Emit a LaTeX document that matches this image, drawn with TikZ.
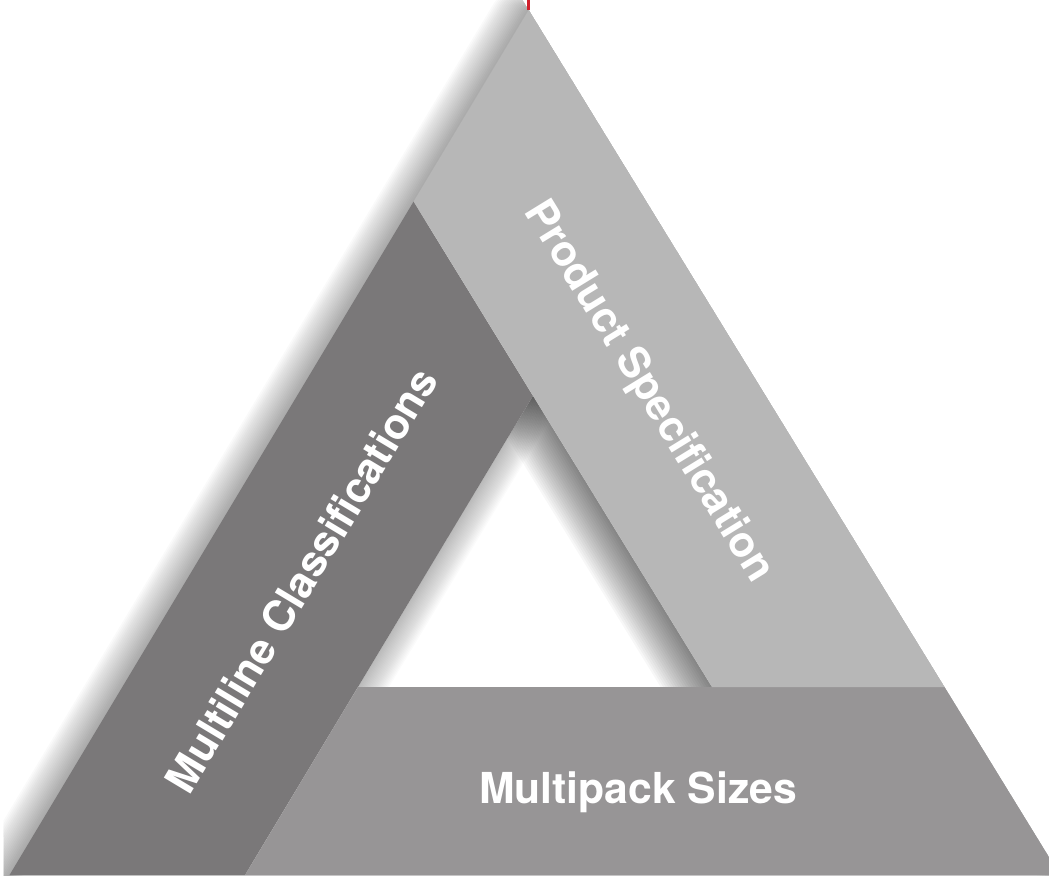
\documentclass[tikz,border=0pt]{standalone}
\usepackage{fontspec}
\setmainfont{TeX Gyre Heros}
\usepackage{xcolor}
\usetikzlibrary{calc}

\definecolor{bandlight}{RGB}{183,183,183}
\definecolor{banddark}{RGB}{122,120,121}
\definecolor{bandmid}{RGB}{151,149,150}
\definecolor{tipred}{RGB}{208,32,44}

\tikzset{
	bandtext/.style={text=white, inner sep=0pt, font=\bfseries\fontsize{32}{38}\selectfont},
	softshadow/.style={draw=black, line join=round}
}

\begin{document}
\begin{tikzpicture}[x=0.75pt, y=-0.75pt]
		\useasboundingbox (0,0) rectangle (1049,875);
		\clip (0,0) rectangle (1049,875);
		\coordinate (tiptop) at (528.7,0);
		\coordinate (apex) at (528.7,10);
		\coordinate (lr) at (944.5,687);
		\coordinate (li) at (712,687);
		\coordinate (lt) at (413.6,201.5);
		\coordinate (hole) at (533,395.8);
		\coordinate (dr) at (245,875);
		\coordinate (dl) at (9.5,875);
		\coordinate (br) at (1060,875);
		\coordinate (bl) at (358,687);
		\coordinate (ol) at (3.7,885);
		\coordinate (or) at (1066,885);
		
		\begin{scope}
			\clip (0,0) -- (522.6,0) -- (or) -- (ol) -- cycle;
			\foreach \k in {1,...,20}
				\draw[softshadow, draw opacity=0.02, line width=\k*2.25pt,
					transform canvas={shift={(-0.5*\k,0.5*\k)}}] (apex) -- (or) -- (ol) -- cycle;
		\end{scope}
		\begin{scope}
			\clip (hole) -- (li) -- (bl) -- cycle;
			\foreach \k in {1,...,20}{
				\draw[softshadow, draw opacity=0.03, line width=\k*2.25pt,
					transform canvas={shift={(-0.5*\k,0.5*\k)}}] (apex) -- (lr) -- (li) -- (lt) -- cycle;
				\draw[softshadow, draw opacity=0.015, line width=\k*2.25pt,
					transform canvas={shift={(-0.5*\k,0.5*\k)}}] (lt) -- (hole) -- (dr) -- (dl) -- cycle;
			}
		\end{scope}
		
		\fill[banddark] (lt) -- (hole) -- (dr) -- (dl) -- cycle;
		\fill[bandmid] (bl) -- (lr) -- (br) -- (dr) -- cycle;
		\fill[bandlight] (apex) -- (lr) -- (li) -- (lt) -- cycle;
		
		\path (301,580) node[bandtext, rotate=59.04] (multiline) {Multiline Classifications}
			(648,392) node[bandtext, rotate=-58.43] (product) {Product Specification}
			(638,803) node[bandtext, anchor=base] (multipack) {Multipack Sizes};
		
		\draw[tipred, line width=2.25pt] (apex) -- (tiptop);
	\end{tikzpicture}
\end{document}
